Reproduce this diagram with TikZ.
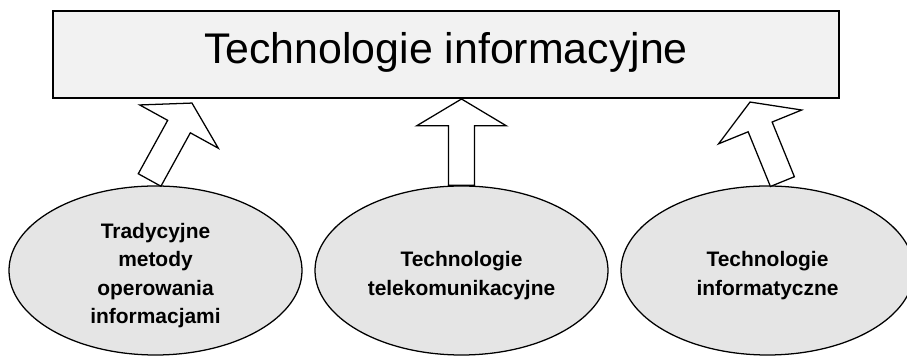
\documentclass[tikz,border=0pt]{standalone}
\usepackage{fontspec}
\setmainfont{Liberation Sans}
\usepackage{tikz}
\usetikzlibrary{shapes.geometric}
\usetikzlibrary{calc}

\definecolor{boxgray}{RGB}{242,242,242}
\definecolor{ovalgray}{RGB}{229,229,229}

\tikzset{
	titlebox/.style={draw, line width=1.4pt, fill=boxgray, minimum width=19.65cm, minimum height=2.175cm, inner sep=0pt, text height=24pt, text depth=11.4pt, font=\fontsize{30.5}{36}\selectfont},
	oval/.style={ellipse, draw, line width=0.9pt, fill=ovalgray, minimum width=7.325cm, minimum height=4.225cm, inner sep=0pt, align=center, font=\fontsize{14.9}{20.2}\selectfont\bfseries},
	blok/.style={draw, line width=0.9pt, fill=white, line join=miter}
}

% strut on the first line of an oval
\newcommand{\gora}{\rule{0pt}{18pt}}

% hollow block arrow from #1 to #2
\newcommand{\blokarrow}[2]{%
	\draw [blok] let \p1=(#1), \p2=(#2), \n1={atan2(\y2-\y1,\x2-\x1)}, \n2={veclen(\x2-\x1,\y2-\y1)} in
	[shift={(\p1)}, rotate=\n1]
	(0pt,-9.2pt) -- ({(\n2-19.1)*1pt},-9.2pt) -- ({(\n2-19.1)*1pt},-31.9pt) -- ({\n2*1pt},0pt)
	-- ({(\n2-19.1)*1pt},31.9pt) -- ({(\n2-19.1)*1pt},9.2pt) -- (0pt,9.2pt) -- cycle;
}

\begin{document}
\begin{tikzpicture}
	\useasboundingbox (0,0) rectangle (22.675,8.9);

	%Box at the top
	\node [titlebox] (ti) at (11.15,7.5375) {Technologie informacyjne};

	%Ellipses at the bottom
	\node [oval] (trad) at (3.8875,2.1375) {\gora Tradycyjne\\metody\\operowania\\informacjami};
	\node [oval] (tel) at (11.5375,2.1375) {\gora Technologie\\telekomunikacyjne};
	\node [oval] (inf) at (19.1875,2.1375) {\gora Technologie\\informatyczne};

	%Ends of the arrows
	\coordinate (s1) at (3.74,4.4);
	\coordinate (g1) at (4.8,6.325);
	\coordinate (g2) at (tel.north |- ti.south);
	\coordinate (s3) at (19.56,4.36);
	\coordinate (g3) at (18.75,6.35);

	%Arrows
	\blokarrow{s1}{g1}
	\blokarrow{tel.north}{g2}
	\blokarrow{s3}{g3}
\end{tikzpicture}
\end{document}
